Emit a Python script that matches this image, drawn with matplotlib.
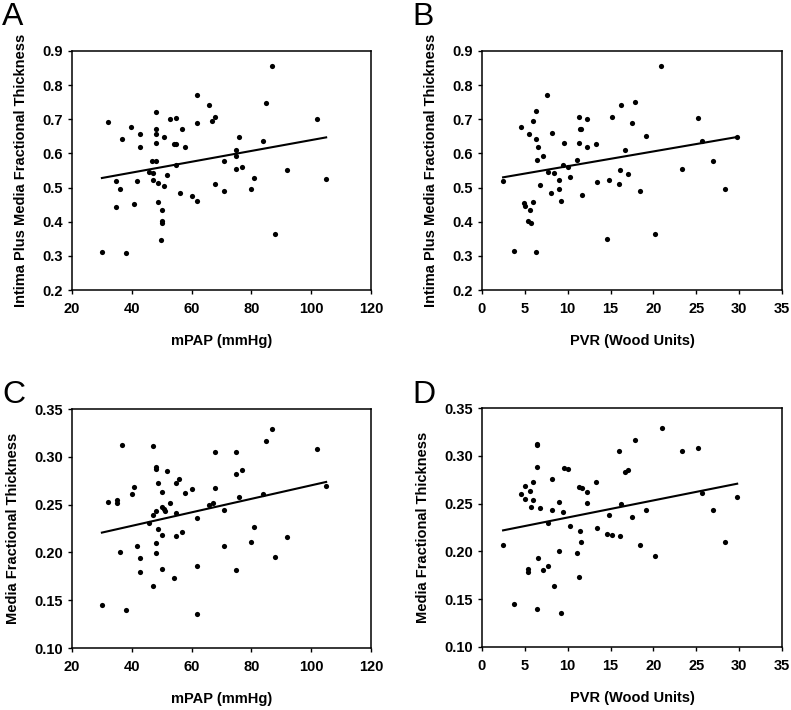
import numpy as np
import matplotlib.pyplot as plt

plt.rcParams['font.family'] = ['Liberation Sans', 'DejaVu Sans']

# mPAP (mmHg) vs intima plus media fractional thickness (panel A)
mpap_a = [30, 31.9, 34.8, 35.9, 34.8, 36.8, 37.9, 39.8, 40.9, 42.8, 42.8, 41.9,
          48.0, 48.0, 48.0, 48.0, 46.7, 48.2, 45.8, 47.1, 47.0, 48.8, 48.8, 50.0,
          50.0, 50.0, 49.8, 50.8, 50.8, 51.8, 52.9, 54.9, 54.0, 54.9, 54.9, 56.9,
          57.9, 56.0, 60.0, 61.9, 61.9, 61.9, 65.9, 66.9, 67.9, 67.9, 70.8, 70.8,
          74.9, 74.9, 74.9, 75.9, 76.8, 79.8, 80.8, 83.9, 84.9, 86.9, 87.9, 91.9,
          101.8, 104.9]
imft_a = [0.312, 0.692, 0.520, 0.495, 0.443, 0.641, 0.308, 0.676, 0.453, 0.656,
          0.619, 0.518, 0.720, 0.672, 0.656, 0.630, 0.579, 0.579, 0.545, 0.544,
          0.523, 0.514, 0.458, 0.434, 0.401, 0.395, 0.347, 0.649, 0.506, 0.538,
          0.700, 0.705, 0.629, 0.628, 0.566, 0.672, 0.620, 0.484, 0.476, 0.771,
          0.688, 0.461, 0.742, 0.694, 0.708, 0.511, 0.579, 0.489, 0.609, 0.592,
          0.553, 0.647, 0.559, 0.495, 0.529, 0.635, 0.749, 0.855, 0.363, 0.551,
          0.702, 0.526]
fit_a_x = [30, 105]
fit_a_y = [0.528, 0.647]

# PVR (Wood units) vs intima plus media fractional thickness (panel B)
pvr_b = [2.46, 3.78, 4.6, 4.95, 4.99, 5.46, 5.6, 5.42, 5.69, 5.96, 5.96, 6.35,
         6.35, 6.59, 6.47, 6.35, 6.74, 7.09, 7.64, 7.72, 8.14, 8.42, 8.1, 9.04,
         9.0, 9.16, 9.55, 9.43, 9.98, 10.29, 11.07, 11.34, 11.42, 11.5, 11.34,
         11.69, 12.28, 12.28, 13.33, 13.44, 14.6, 14.85, 15.12, 15.98, 16.1,
         16.25, 16.72, 17.07, 17.5, 17.85, 18.47, 19.17, 20.19, 20.93, 23.3,
         25.2, 25.68, 26.9, 28.3, 29.74]
imft_b = [0.519, 0.313, 0.677, 0.455, 0.446, 0.658, 0.435, 0.401, 0.396, 0.694,
          0.459, 0.723, 0.643, 0.620, 0.580, 0.310, 0.507, 0.592, 0.772, 0.545,
          0.659, 0.544, 0.485, 0.521, 0.496, 0.461, 0.632, 0.566, 0.560, 0.530,
          0.581, 0.708, 0.673, 0.673, 0.630, 0.477, 0.701, 0.620, 0.628, 0.515,
          0.348, 0.523, 0.706, 0.511, 0.552, 0.743, 0.610, 0.540, 0.690, 0.750,
          0.490, 0.650, 0.365, 0.856, 0.554, 0.703, 0.635, 0.579, 0.496, 0.648]
fit_b_x = [2.46, 29.74]
fit_b_y = [0.530, 0.648]

# mPAP vs media fractional thickness (panel C)
mpap_c = [30, 31.9, 34.9, 34.9, 36.8, 35.9, 37.9, 39.9, 40.9, 41.9, 42.8, 42.8,
          45.8, 47.0, 47.0, 47.0, 48.0, 48.0, 48.0, 48.0, 48.0, 48.8, 48.8, 50.0,
          50.0, 50.0, 50.0, 50.8, 51.0, 51.8, 52.9, 54.0, 54.9, 54.9, 54.9, 55.9,
          56.9, 57.9, 60.0, 61.9, 61.9, 61.9, 65.9, 67.0, 67.9, 67.9, 70.8, 70.8,
          74.9, 74.9, 74.9, 76.8, 75.9, 79.8, 80.8, 83.9, 84.9, 86.9, 87.9, 91.9,
          101.8, 104.9]
mft_c = [0.145, 0.253, 0.2545, 0.252, 0.3127, 0.2009, 0.1402, 0.2608, 0.2688,
         0.2064, 0.1939, 0.1796, 0.2305, 0.311, 0.2389, 0.1646, 0.289, 0.287,
         0.2434, 0.2096, 0.1991, 0.273, 0.2249, 0.2629, 0.2472, 0.2179, 0.1824,
         0.2458, 0.2434, 0.2848, 0.2514, 0.1733, 0.2723, 0.2409, 0.2169, 0.2765,
         0.2214, 0.2625, 0.2667, 0.2357, 0.1855, 0.1357, 0.250, 0.2514, 0.3054,
         0.2678, 0.2441, 0.2068, 0.305, 0.2824, 0.1817, 0.2862, 0.2577, 0.2106,
         0.2263, 0.2611, 0.3162, 0.3294, 0.195, 0.2162, 0.3085, 0.2692]
fit_c_x = [30, 105]
fit_c_y = [0.2207, 0.2737]

# PVR vs media fractional thickness (panel D)
pvr_d = [2.46, 3.78, 4.6, 4.99, 4.99, 5.62, 5.7, 5.42, 5.42, 5.93, 5.97, 6.36,
         6.44, 6.36, 6.59, 6.36, 6.75, 7.06, 7.65, 7.69, 8.12, 8.12, 8.39, 9.01,
         9.01, 9.44, 9.17, 9.6, 9.99, 10.3, 11.08, 11.31, 11.67, 11.39, 11.51,
         11.31, 12.25, 12.25, 13.3, 13.46, 14.59, 15.14, 14.83, 16.0, 16.11,
         16.27, 16.7, 17.09, 17.48, 17.87, 18.49, 19.16, 20.17, 20.95, 23.29,
         25.2, 25.67, 26.92, 28.33, 29.77]
mft_d = [0.2063, 0.1446, 0.2604, 0.2684, 0.2545, 0.2628, 0.2468, 0.1819, 0.1788,
         0.2726, 0.2534, 0.3127, 0.311, 0.2879, 0.1934, 0.1397, 0.2451, 0.1809,
         0.1851, 0.2301, 0.2757, 0.243, 0.1642, 0.2517, 0.2008, 0.2409, 0.1352,
         0.2872, 0.2862, 0.2262, 0.1987, 0.2677, 0.2663, 0.2213, 0.2095, 0.1736,
         0.2625, 0.251, 0.2726, 0.2248, 0.2179, 0.2172, 0.2384, 0.3054, 0.2158,
         0.2496, 0.2827, 0.2848, 0.2356, 0.3162, 0.2063, 0.2433, 0.1948, 0.3291,
         0.3047, 0.3078, 0.2614, 0.2437, 0.2098, 0.2573]
fit_d_x = [2.46, 29.77]
fit_d_y = [0.222, 0.2708]

xlabel_mpap = 'mPAP (mmHg)'
xlabel_pvr = 'PVR (Wood Units)'
ylabel_top = 'Intima Plus Media Fractional Thickness'
ylabel_bot = 'Media Fractional Thickness'

W, H = 791, 710
fig = plt.figure(figsize=(W / 100, H / 100), dpi=100)


def make_ax(l, t, r, b):
    return fig.add_axes([l / W, 1 - b / H, (r - l) / W, (b - t) / H])


panels = [
    (make_ax(72, 51, 371, 290), mpap_a, imft_a, fit_a_x, fit_a_y,
     (20, 120, 20), (0.2, 0.9, 0.1), '%.1f', xlabel_mpap, ylabel_top,
     'A', 2, 25),
    (make_ax(482, 51, 782, 290), pvr_b, imft_b, fit_b_x, fit_b_y,
     (0, 35, 5), (0.2, 0.9, 0.1), '%.1f', xlabel_pvr, ylabel_top,
     'B', 412, 25),
    (make_ax(72, 409, 371, 648), mpap_c, mft_c, fit_c_x, fit_c_y,
     (20, 120, 20), (0.10, 0.35, 0.05), '%.2f', xlabel_mpap, ylabel_bot,
     'C', 2, 403),
    (make_ax(482, 408, 782, 647), pvr_d, mft_d, fit_d_x, fit_d_y,
     (0, 35, 5), (0.10, 0.35, 0.05), '%.2f', xlabel_pvr, ylabel_bot,
     'D', 412, 403),
]

for ax, x, y, fx, fy, xr, yr, yfmt, xl, yl, letter, lx, ly in panels:
    ax.scatter(x, y, s=14, color='black', zorder=3, linewidths=0)
    ax.plot(fx, fy, color='black', lw=1.5)
    ax.set_xlim(xr[0], xr[1])
    ax.set_ylim(yr[0], yr[1])
    ax.set_xticks(np.arange(xr[0], xr[1] + xr[2] / 2, xr[2]))
    yt = np.arange(yr[0], yr[1] + yr[2] / 2, yr[2])
    ax.set_yticks(yt)
    ax.set_yticklabels([yfmt % v for v in yt])
    ax.tick_params(direction='out', length=3, width=1, labelsize=10.5)
    ax.tick_params(axis='x', pad=5.5)
    ax.tick_params(axis='y', pad=3.5)
    for lab in ax.get_xticklabels() + ax.get_yticklabels():
        lab.set_fontweight('bold')
    for sp in ax.spines.values():
        sp.set_linewidth(1.1)
    ax.set_xlabel(xl, fontsize=10.5, fontweight='bold', labelpad=13)
    ax.set_ylabel(yl, fontsize=10.5, fontweight='bold', labelpad=10)
    fig.text(lx / W, 1 - ly / H, letter, fontsize=23, ha='left',
             va='baseline')

fig.savefig('out.png', dpi=100)
